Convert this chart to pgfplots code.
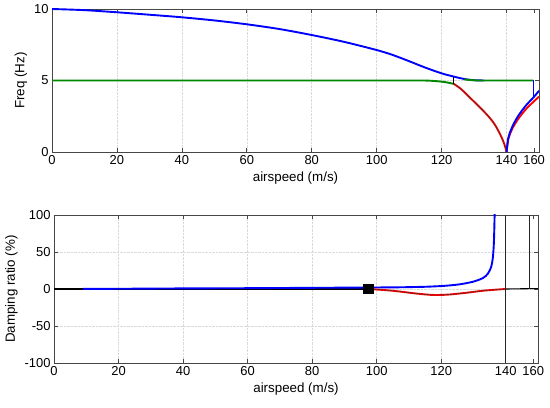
\documentclass[border=0pt]{standalone}
\usepackage{fontspec}
\setmainfont{Liberation Sans}
\usepackage{pgfplots}
\pgfplotsset{compat=1.18}
\definecolor{axgray}{RGB}{70,70,70}
\definecolor{mgreen}{RGB}{0,135,0}
\pgfplotsset{
  mystyle/.style={
    scale only axis,
    anchor=south west,
    xmin=0, xmax=150,
    xtick={0,20,40,60,80,100,120,140},
    extra x ticks={148.5},
    extra x tick labels={160},
    extra x tick style={grid=none},
    tick align=inside,
    major tick length=4bp,
    axis line style={axgray, line width=0.9bp},
    tick style={axgray, line width=0.7bp},
    grid=major,
    major grid style={densely dotted, gray!30, line width=0.5bp},
    font=\fontsize{13.4}{15}\selectfont,
    tick label style={font=\fontsize{13}{15}\selectfont},
    /pgf/number format/assume math mode=true,
    xlabel={airspeed (m/s)},
    every axis plot/.append style={line width=1.9bp},
  }
}
\begin{document}
\begin{tikzpicture}
\path[use as bounding box] (0,0) rectangle (550bp,408bp);
% ---------------- top axis ----------------
\begin{axis}[mystyle,
  at={(52bp,256bp)}, width=487bp, height=143bp,
  ymin=0, ymax=10, ytick={0,5,10},
  ylabel={Freq (Hz)},
]
\addplot[blue, smooth] coordinates {
(0,10) (10,9.92) (20,9.77) (30,9.6) (40,9.42) (50,9.2) (60,8.93) (70,8.6)
(80,8.18) (90,7.7) (100,7.13) (105,6.78) (110,6.35) (115,5.9) (120,5.5)
(123.8,5.27) (126,5.15) (128,5.07) (130,5.02) (133,5.0)
};
\addplot[blue] coordinates {(133,5.0) (148.3,5.0)};
\addplot[mgreen, smooth] coordinates {
(0,5) (100,5) (113,5.0) (116,4.99) (118,4.96) (120,4.92) (122,4.85) (123.8,4.76)
};
\addplot[mgreen] coordinates {
(127,5.08) (129,5.03) (131,5.0) (148.3,5.0)
};
\addplot[black, line width=1bp] coordinates {(123.8,4.76) (123.8,5.27)};
\addplot[red, smooth] coordinates {
(123.8,4.76) (126,4.4) (128.4,3.87) (131,3.3) (133.6,2.7) (135.5,2.2)
(136.7,1.8) (138,1.25) (139,0.75) (139.6,0.35) (140,0)
};
\addplot[black!80, line width=0.4bp, smooth] coordinates {
(123.8,4.76) (126,4.4) (128.4,3.87) (131,3.3) (133.6,2.7) (135.5,2.2)
(136.7,1.8) (138,1.25) (139,0.75) (139.6,0.35) (140,0)
};
\addplot[red, smooth] coordinates {
(140,0) (140.5,0.86) (141,1.22) (142,1.73) (143,2.11) (144,2.44) (146,3.0) (148,3.45) (150,3.87)
};
\addplot[blue, smooth] coordinates {
(140,0) (140.5,0.94) (141,1.33) (142,1.88) (143,2.3) (144,2.66) (146,3.26) (148.3,3.82) (150,4.28)
};
\addplot[blue] coordinates {(148.3,5.0) (148.3,3.82)};
\end{axis}
% ---------------- bottom axis ----------------
\begin{axis}[mystyle,
  at={(54bp,45bp)}, width=484bp, height=148bp,
  ymin=-100, ymax=100, ytick={-100,-50,0,50,100},
  yticklabels={-100,-50,0,50,100},
  ylabel={Damping ratio (\%)},
]
\addplot[black] coordinates {(0,0) (97.5,0)};
\addplot[blue, smooth] coordinates {
(9,0.1) (20,0.3) (40,0.8) (60,1.1) (80,1.6) (97.5,2) (107,2.3) (115,3)
(120,4) (123,5) (126,6.5) (130,10) (133,15) (134.5,21) (135.5,30)
(136,42) (136.3,60) (136.45,80) (136.55,100) (136.6,115)
};
\addplot[red, smooth] coordinates {
(97.5,0) (100,-0.7) (104,-2) (107.5,-3.6) (112,-6) (117,-8) (120,-8)
(123,-7.3) (128,-5) (133,-2.3) (138.5,-0.4) (140,0)
};
\addplot[black!80, line width=0.4bp, smooth] coordinates {
(97.5,0) (100,-0.7) (104,-2) (107.5,-3.6) (112,-6) (117,-8) (120,-8)
(123,-7.3) (128,-5) (133,-2.3) (138.5,-0.4) (140,0)
};
\addplot[black, line width=1.1bp] coordinates {(140,0) (150,0.6)};
\addplot[black!85, line width=1.1bp] coordinates {(140,-100) (140,100)};
\addplot[black!85, line width=1.1bp] coordinates {(147.5,0.5) (147.5,100)};
\addplot[only marks, mark=square*, mark size=4.2bp, black] coordinates {(97.5,0)};
\end{axis}
\end{tikzpicture}
\end{document}
